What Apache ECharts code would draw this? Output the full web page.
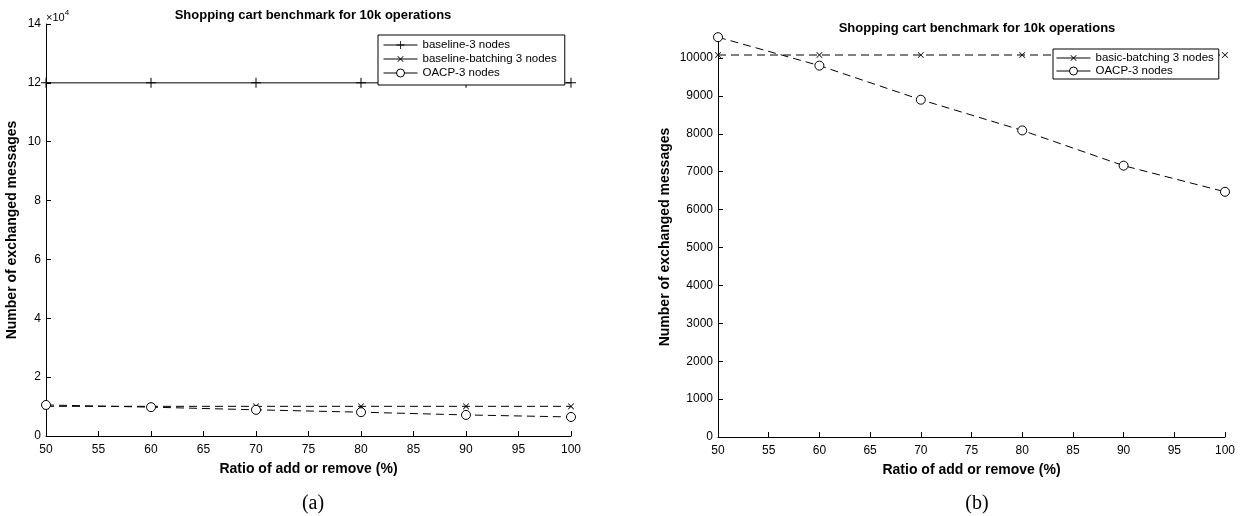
<!DOCTYPE html>
<html>
<head>
<meta charset="utf-8">
<script src="https://cdn.jsdelivr.net/npm/echarts@6/dist/echarts.min.js"></script>
<style>
html,body{margin:0;padding:0;background:#fff;}
#chart{width:1247px;height:516px;}
</style>
</head>
<body>
<div id="chart"></div>
<script>
// ---- data ----
const ratios = [50, 60, 70, 80, 90, 100];
const baseline3 = [120000, 120000, 120000, 120000, 120000, 120000];
const baselineBatching3 = [10080, 10080, 10080, 10080, 10080, 10080];
const basicBatching3 = [10080, 10080, 10080, 10080, 10080, 10080];
const oacp3 = [10550, 9800, 8900, 8090, 7160, 6470];
const xTicks = [50, 55, 60, 65, 70, 75, 80, 85, 90, 95, 100];
const yTicksA = [0, 20000, 40000, 60000, 80000, 100000, 120000, 140000];
const yTicksB = [0, 1000, 2000, 3000, 4000, 5000, 6000, 7000, 8000, 9000, 10000];

const titleText = 'Shopping cart benchmark for 10k operations';
const yName = 'Number of exchanged messages';
const xName = 'Ratio of add or remove (%)';

const FONT = '"Liberation Sans", Arial, Helvetica, sans-serif';
const SERIF = '"Liberation Serif", "DejaVu Serif", serif';
const PLUS = 'path://M4.5,0 H5.5 V4.5 H10 V5.5 H5.5 V10 H4.5 V5.5 H0 V4.5 H4.5 Z';

function pairs(xs, ys) { return xs.map((x, i) => [x, ys[i]]); }

function xAxisCfg(idx) {
  return {
    type: 'value', gridIndex: idx, min: 50, max: 100, interval: 5,
    name: xName, nameLocation: 'middle', nameGap: 26,
    nameTextStyle: { fontFamily: FONT, fontSize: 14, fontWeight: 'bold', color: '#000' },
    axisLine: { show: true, onZero: false, lineStyle: { color: '#000', width: 1 } },
    axisTick: { show: true, inside: true, length: 5, lineStyle: { color: '#000' } },
    axisLabel: { fontFamily: FONT, fontSize: 12, color: '#000', margin: 8 },
    splitLine: { show: false }
  };
}

function yAxisCfg(idx, extra) {
  return Object.assign({
    type: 'value', gridIndex: idx, min: 0,
    name: yName, nameLocation: 'middle', nameRotate: 90,
    nameTextStyle: { fontFamily: FONT, fontSize: 14, fontWeight: 'bold', color: '#000' },
    axisLine: { show: true, onZero: false, lineStyle: { color: '#000', width: 1 } },
    splitLine: { show: false }
  }, extra);
}

const lineSolid = { color: '#000', width: 1, type: 'solid' };
const lineDashed = { color: '#000', width: 1, type: [8, 5] };
const circleStyle = { color: '#fff', borderColor: '#000', borderWidth: 1 };

const option = {
  backgroundColor: '#fff',
  animation: false,
  title: [
    { text: titleText, left: 308, top: 4, textAlign: 'center',
      textStyle: { fontFamily: FONT, fontSize: 13, fontWeight: 'bold', color: '#000' } },
    { text: titleText, left: 972, top: 17, textAlign: 'center',
      textStyle: { fontFamily: FONT, fontSize: 13, fontWeight: 'bold', color: '#000' } },
    { text: '(a)', left: 308, top: 489, textAlign: 'center',
      textStyle: { fontFamily: SERIF, fontSize: 20, fontWeight: 'normal', color: '#000' } },
    { text: '(b)', left: 972, top: 489, textAlign: 'center',
      textStyle: { fontFamily: SERIF, fontSize: 20, fontWeight: 'normal', color: '#000' } }
  ],
  graphic: [
    { type: 'text', left: 46, top: 9,
      style: { text: '{a|×10}{b|4}', rich: {
        a: { fontFamily: FONT, fontSize: 11, fill: '#000', verticalAlign: 'bottom' },
        b: { fontFamily: FONT, fontSize: 8, fill: '#000', verticalAlign: 'top', padding: [0, 0, 6, 0] } } } }
  ],
  legend: [
    { left: 378, top: 35, orient: 'vertical',
      data: ['baseline-3 nodes', 'baseline-batching 3 nodes', 'OACP-3 nodes'],
      backgroundColor: '#fff', borderColor: '#000', borderWidth: 1,
      padding: [4, 8, 6, 5], itemGap: 2, itemWidth: 34, itemHeight: 10,
      lineStyle: { type: 'solid', width: 1, color: '#000' },
      itemStyle: { borderWidth: 1 },
      textStyle: { fontFamily: FONT, fontSize: 11.5, color: '#000', lineHeight: 12 },
      selectedMode: false },
    { left: 1053, top: 49, orient: 'vertical',
      data: ['basic-batching 3 nodes', 'OACP-3 nodes'],
      backgroundColor: '#fff', borderColor: '#000', borderWidth: 1,
      padding: [3, 5, 2, 3], itemGap: 1, itemWidth: 34, itemHeight: 10,
      lineStyle: { type: 'solid', width: 1, color: '#000' },
      itemStyle: { borderWidth: 1 },
      textStyle: { fontFamily: FONT, fontSize: 11.5, color: '#000', lineHeight: 12 },
      selectedMode: false }
  ],
  grid: [
    { left: 46, top: 24, width: 525, height: 412, containLabel: false },
    { left: 718, top: 37, width: 507, height: 400, containLabel: false }
  ],
  xAxis: [xAxisCfg(0), xAxisCfg(1)],
  yAxis: [
    yAxisCfg(0, {
      max: 140000, interval: 20000, nameGap: 27,
      axisTick: { show: true, inside: true, length: 5, lineStyle: { color: '#000' } },
      axisLabel: { fontFamily: FONT, fontSize: 12, color: '#000', margin: 5,
        formatter: v => String(v / 10000) }
    }),
    yAxisCfg(1, {
      max: 10555, nameGap: 46,
      axisTick: { show: true, inside: true, length: 5, customValues: yTicksB, lineStyle: { color: '#000' } },
      axisLabel: { fontFamily: FONT, fontSize: 12, color: '#000', margin: 5, customValues: yTicksB,
        formatter: v => String(v) }
    })
  ],
  series: [
    { name: 'baseline-3 nodes', type: 'line', xAxisIndex: 0, yAxisIndex: 0,
      data: pairs(ratios, baseline3), symbol: PLUS, symbolSize: 10,
      itemStyle: { color: '#000' }, lineStyle: lineSolid, z: 3 },
    { name: 'baseline-batching 3 nodes', type: 'line', xAxisIndex: 0, yAxisIndex: 0,
      data: pairs(ratios, baselineBatching3), symbol: PLUS, symbolSize: 8, symbolRotate: 45,
      itemStyle: { color: '#000' }, lineStyle: lineDashed, z: 3 },
    { name: 'OACP-3 nodes', type: 'line', xAxisIndex: 0, yAxisIndex: 0,
      data: pairs(ratios, oacp3), symbol: 'circle', symbolSize: 9,
      itemStyle: circleStyle, lineStyle: lineDashed, z: 3 },
    { name: 'basic-batching 3 nodes', type: 'line', xAxisIndex: 1, yAxisIndex: 1,
      data: pairs(ratios, basicBatching3), symbol: PLUS, symbolSize: 8, symbolRotate: 45,
      itemStyle: { color: '#000' }, lineStyle: lineDashed, z: 3 },
    { name: 'OACP-3 nodes', type: 'line', xAxisIndex: 1, yAxisIndex: 1,
      data: pairs(ratios, oacp3), symbol: 'circle', symbolSize: 9,
      itemStyle: circleStyle, lineStyle: lineDashed, z: 3 }
  ]
};

const chart = echarts.init(document.getElementById('chart'), null, { renderer: 'canvas' });
chart.setOption(option);
</script>
</body>
</html>
